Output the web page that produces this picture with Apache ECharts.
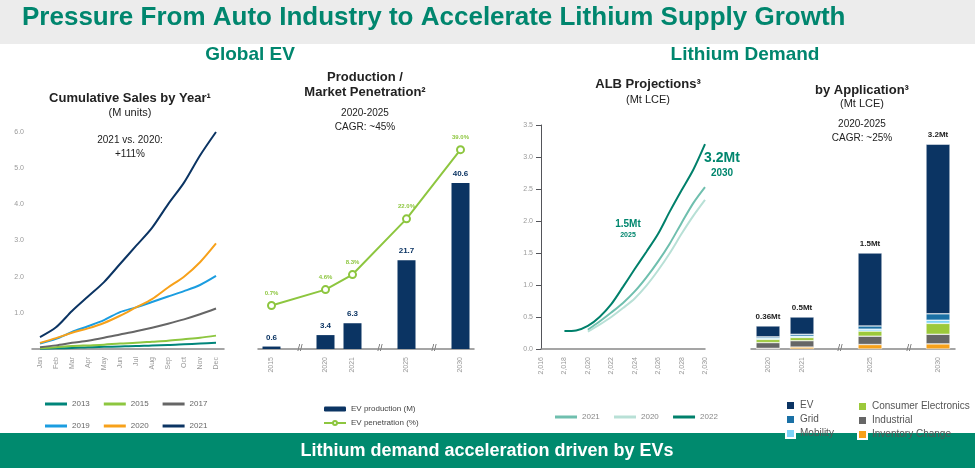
<!DOCTYPE html>
<html><head><meta charset="utf-8">
<script src="https://cdn.jsdelivr.net/npm/echarts@6/dist/echarts.min.js"></script>
<style>html,body{margin:0;padding:0;background:#fff}#main{width:975px;height:468px}</style>
</head><body><div id="main"></div>
<script>
// cumulative EV sales (M units)
var months = ["Jan","Feb","Mar","Apr","May","Jun","Jul","Aug","Sep","Oct","Nov","Dec"];
var sales2013 = [0.01,0.02,0.03,0.05,0.06,0.07,0.08,0.1,0.11,0.13,0.15,0.17];
var sales2015 = [0.02,0.05,0.08,0.1,0.12,0.15,0.17,0.2,0.23,0.27,0.31,0.37];
var sales2017 = [0.05,0.1,0.17,0.23,0.31,0.4,0.49,0.59,0.7,0.82,0.96,1.12];
var sales2019 = [0.15,0.28,0.47,0.63,0.8,1.02,1.15,1.3,1.45,1.6,1.77,2.02];
var sales2020 = [0.17,0.3,0.45,0.57,0.72,0.92,1.15,1.38,1.7,2.0,2.4,2.92];
var sales2021 = [0.33,0.6,1.05,1.45,1.85,2.35,2.85,3.35,4.0,4.6,5.35,6.0];

// production / penetration ("" = spacer)
var prodYears = ["2015","","2020","2021","","2025","","2030"];
var evProduction = [0.6,null,3.4,6.3,null,21.7,null,40.6];
var evPenetration = [0.7,null,4.6,8.3,null,22.0,null,39.0];

// ALB projections (Mt LCE)
var proj2022 = [[2018,0.28],[2019,0.29],[2020,0.36],[2021,0.5],[2022,0.7],[2023,0.97],[2024,1.25],[2025,1.52],[2026,1.8],[2027,2.15],[2028,2.48],[2029,2.8],[2030,3.2]];
var proj2021 = [[2020,0.3],[2021,0.43],[2022,0.57],[2023,0.72],[2024,0.9],[2025,1.12],[2026,1.37],[2027,1.65],[2028,1.97],[2029,2.28],[2030,2.53]];
var proj2020 = [[2020,0.27],[2021,0.38],[2022,0.5],[2023,0.64],[2024,0.79],[2025,0.99],[2026,1.23],[2027,1.5],[2028,1.8],[2029,2.08],[2030,2.33]];

// demand by application (Mt LCE)
var appYears = ["2020","2021","","2025","","2030"];
var appInventory = [0.01,0.03,null,0.07,null,0.08];
var appIndustrial = [0.09,0.1,null,0.13,null,0.15];
var appConsumer = [0.05,0.05,null,0.08,null,0.17];
var appMobility = [0.02,0.02,null,0.03,null,0.05];
var appGrid = [0.02,0.03,null,0.05,null,0.1];
var appEV = [0.17,0.27,null,1.14,null,2.65];
var appTotals = ["0.36Mt","0.5Mt","","1.5Mt","","3.2Mt"];

var GREEN = "#00866e", FONT = "Liberation Sans, Arial, sans-serif";
var axisLab = {color:"#999", fontSize:7, fontFamily:FONT};
var axLine = {lineStyle:{color:"#888", width:1.5}};

function txt(x, y, s, size, weight, color, align) {
  return {type:"text", x:x, y:y, style:{text:s, fontSize:size, fontWeight:weight||"normal",
    fill:color||"#222", fontFamily:FONT, textAlign:align||"center", textVerticalAlign:"middle"}};
}
function sline(name, data, color, xi, yi) {
  return {name:name, type:"line", data:data, xAxisIndex:xi, yAxisIndex:yi, symbol:"none",
    smooth:0.3, lineStyle:{color:color, width:2}, itemStyle:{color:color}};
}
function stack(name, data, color) {
  return {name:name, type:"bar", stack:"app", data:data, xAxisIndex:3, yAxisIndex:4, barWidth:24,
    itemStyle:{color:color, borderColor:"#fff", borderWidth:0.5}};
}

var myChart = echarts.init(document.getElementById("main"));
myChart.setOption({
  animation:false,
  textStyle:{fontFamily:FONT},
  graphic:[
    {type:"rect", shape:{x:0,y:0,width:975,height:44}, style:{fill:"#ececec"}},
    txt(22,18,"Pressure From Auto Industry to Accelerate Lithium Supply Growth",26,"bold",GREEN,"left"),
    txt(250,55,"Global EV",19,"bold",GREEN),
    txt(745,55,"Lithium Demand",19,"bold",GREEN),
    txt(130,98,"Cumulative Sales by Year¹",13,"bold"),
    txt(130,113,"(M units)",11),
    txt(130,140,"2021 vs. 2020:",10),
    txt(130,154,"+111%",10),
    txt(365,77,"Production /",13,"bold"),
    txt(365,92,"Market Penetration²",13,"bold"),
    txt(365,113,"2020-2025",10),
    txt(365,127,"CAGR: ~45%",10),
    txt(648,84,"ALB Projections³",13,"bold"),
    txt(648,100,"(Mt LCE)",11),
    txt(862,90,"by Application³",13,"bold"),
    txt(862,104,"(Mt LCE)",11),
    txt(862,124,"2020-2025",10),
    txt(862,138,"CAGR: ~25%",10),
    txt(628,224,"1.5Mt",10,"bold",GREEN),
    txt(628,235,"2025",7,"bold",GREEN),
    txt(722,158,"3.2Mt",14,"bold",GREEN),
    txt(722,173,"2030",10,"bold",GREEN),
    txt(300,349,"//",9,"normal","#555"),
    txt(380,349,"//",9,"normal","#555"),
    txt(434,349,"//",9,"normal","#555"),
    txt(840,349,"//",9,"normal","#555"),
    txt(909,349,"//",9,"normal","#555"),
    {type:"rect", shape:{x:0,y:433,width:975,height:35}, style:{fill:"#008a6e"}},
    txt(487,451,"Lithium demand acceleration driven by EVs",18,"bold","#fff")
  ],
  legend:[
    {data:["2013","2015","2017","2019","2020","2021"], left:40, top:395, width:180, itemWidth:22, itemHeight:3,
     itemGap:14, icon:"rect", textStyle:{fontSize:8,color:"#666"}},
    {data:["EV production (M)","EV penetration (%)"], orient:"vertical", left:318, top:400, itemWidth:22, itemHeight:5,
     itemGap:6, textStyle:{fontSize:8,color:"#444"}},
    {data:["2021 ","2020 ","2022 "], left:550, top:408, itemWidth:22, itemHeight:3, itemGap:12, icon:"rect",
     textStyle:{fontSize:8,color:"#888"}},
    {data:["EV","Grid","Mobility"], orient:"vertical", left:780, top:395, itemWidth:9, itemHeight:9, itemGap:3,
     icon:"rect", textStyle:{fontSize:10,color:"#555"}},
    {data:["Consumer Electronics","Industrial","Inventory Change"], orient:"vertical", left:852, top:396, itemWidth:9,
     itemHeight:9, itemGap:3, icon:"rect", textStyle:{fontSize:10,color:"#555"}}
  ],
  grid:[
    {left:32, top:132, width:192, height:217},
    {left:258, top:120, width:216, height:229},
    {left:541, top:125, width:164, height:224},
    {left:751, top:125, width:204, height:224}
  ],
  xAxis:[
    {type:"category", gridIndex:0, data:months, axisTick:{show:false}, axisLine:axLine,
     axisLabel:Object.assign({rotate:90, interval:0}, axisLab)},
    {type:"category", gridIndex:1, data:prodYears, axisTick:{show:false}, axisLine:axLine,
     axisLabel:Object.assign({rotate:90, interval:0}, axisLab)},
    {type:"value", gridIndex:2, min:2016, max:2030, interval:2, splitLine:{show:false}, axisTick:{show:false},
     axisLine:axLine, axisLabel:Object.assign({rotate:90, formatter:"{value}"}, axisLab)},
    {type:"category", gridIndex:3, data:appYears, axisTick:{show:false}, axisLine:axLine,
     axisLabel:Object.assign({rotate:90, interval:0}, axisLab)}
  ],
  yAxis:[
    {type:"value", gridIndex:0, min:0, max:6, interval:1, splitLine:{show:false},
     axisLabel:Object.assign({formatter:function(v){return v===0?"":v.toFixed(1);}}, axisLab)},
    {type:"value", gridIndex:1, min:0, max:56, show:false},
    {type:"value", gridIndex:1, min:-10, max:46.3, show:false},
    {type:"value", gridIndex:2, min:0, max:3.5, interval:0.5, splitLine:{show:false},
     axisLabel:Object.assign({formatter:function(v){return v.toFixed(1);}}, axisLab)},
    {type:"value", gridIndex:3, min:0, max:3.5, show:false}
  ],
  series:[
    sline("2013", sales2013, "#00857a", 0, 0),
    sline("2015", sales2015, "#8dc63f", 0, 0),
    sline("2017", sales2017, "#666666", 0, 0),
    sline("2019", sales2019, "#1b9de0", 0, 0),
    sline("2020", sales2020, "#f7a11a", 0, 0),
    sline("2021", sales2021, "#0b3463", 0, 0),
    {name:"EV production (M)", type:"bar", data:evProduction, xAxisIndex:1, yAxisIndex:1, barWidth:18,
     itemStyle:{color:"#0b3463"},
     label:{show:true, position:"top", fontSize:8, fontWeight:"bold", color:"#0b3463", formatter:function(p){return p.value.toFixed(1);}}},
    {name:"EV penetration (%)", type:"line", data:evPenetration, xAxisIndex:1, yAxisIndex:2, connectNulls:true,
     symbol:"circle", symbolSize:7, lineStyle:{color:"#8dc63f", width:2},
     itemStyle:{color:"#fff", borderColor:"#8dc63f", borderWidth:2},
     label:{show:true, position:"top", fontSize:6, fontWeight:"bold", color:"#8dc63f", formatter:function(p){return p.value.toFixed(1)+"%";}}},
    sline("2021 ", proj2021, "#6fbfae", 2, 3),
    sline("2020 ", proj2020, "#b8e0d6", 2, 3),
    sline("2022 ", proj2022, "#00806b", 2, 3),
    stack("Inventory Change", appInventory, "#f7a11a"),
    stack("Industrial", appIndustrial, "#666666"),
    stack("Consumer Electronics", appConsumer, "#9cc93b"),
    stack("Mobility", appMobility, "#7fd3f7"),
    stack("Grid", appGrid, "#1a70a5"),
    Object.assign(stack("EV", appEV, "#0b3463"),
      {label:{show:true, position:"top", fontSize:8, fontWeight:"bold", color:"#222",
        formatter:function(p){return appTotals[p.dataIndex];}}})
  ]
});
</script></body></html>
